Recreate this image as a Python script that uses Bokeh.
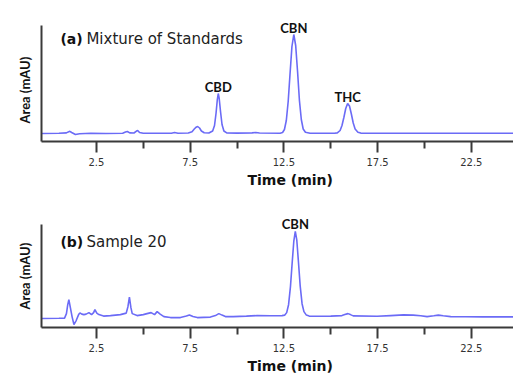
from bokeh.plotting import figure
from bokeh.models import FixedTicker, Label, Range1d, Title
from bokeh.layouts import column
from bokeh.embed import file_html
from bokeh.resources import INLINE

# ---- data ----
time_a = [-0.43, 0.5, 0.9, 1.0, 1.08, 1.18, 1.38, 1.6, 2.2, 3.0, 3.9, 4.05, 4.15, 4.28, 4.5, 4.62, 4.7, 4.8, 5.0,
          6.0, 6.5, 6.67, 6.85, 7.4, 7.6, 7.72, 7.82, 7.9, 8.0, 8.1, 8.25, 8.5, 8.7, 8.8, 8.88, 8.95, 9.0, 9.05,
          9.12, 9.2, 9.3, 9.45, 10.0, 10.8, 11.0, 11.2, 12.3, 12.43, 12.53, 12.63, 12.73, 12.83, 12.93, 13.03,
          13.13, 13.23, 13.33, 13.43, 13.53, 13.65, 13.9, 15.2, 15.35, 15.5, 15.6, 15.7, 15.8, 15.9, 16.0, 16.1,
          16.2, 16.3, 16.45, 16.6, 17.0, 20.0, 24.75]
area_a = [0.0, 0.2, 0.6, 1.6, 2.2, 1.0, -1.0, -0.2, 0.2, 0.0, 0.3, 1.5, 2.0, 0.6, 0.5, 2.2, 3.0, 1.0, 0.2,
          0.3, 0.3, 1.0, 0.3, 0.5, 1.8, 4.5, 6.3, 7.0, 5.5, 2.5, 0.8, 0.5, 2.5, 8.0, 20.0, 34.0, 40.0, 35.0,
          22.0, 9.0, 2.5, 0.6, 0.4, 0.6, 1.0, 0.5, 0.3, 1.0, 4.0, 13.0, 32.0, 60.0, 87.0, 99.0,
          88.0, 62.0, 33.0, 14.0, 4.5, 1.2, 0.3, 0.3, 0.6, 3.0, 8.0, 16.0, 25.0, 30.0, 27.5, 19.5,
          10.5, 4.5, 1.3, 0.4, 0.2, 0.2, 0.2]

time_b = [-0.43, 0.5, 0.8, 0.9, 0.97, 1.03, 1.12, 1.2, 1.3, 1.42, 1.55, 1.62, 1.72, 1.83, 1.95, 2.1, 2.24, 2.35,
          2.42, 2.52, 2.63, 2.88, 3.25, 3.78, 4.09, 4.18, 4.26, 4.34, 4.41, 4.67, 5.0, 5.2, 5.42, 5.6, 5.74,
          5.9, 6.1, 6.45, 6.98, 7.3, 7.46, 7.65, 7.88, 8.58, 8.85, 9.03, 9.2, 9.38, 9.8, 10.5, 11.07, 11.8,
          12.4, 12.55, 12.65, 12.75, 12.85, 12.95, 13.03, 13.11, 13.19, 13.27, 13.37, 13.47, 13.57, 13.7,
          13.85, 14.27, 15.0, 15.6, 15.75, 15.92, 16.05, 16.2, 17.47, 18.2, 18.88, 19.4, 19.8, 20.14, 20.5,
          20.74, 21.0, 21.4, 22.2, 23.1, 24.75]
area_b = [0.0, 0.3, 0.5, 5.0, 14.0, 19.0, 10.0, 2.0, -6.0, -2.0, 4.0, 5.7, 4.5, 4.0, 4.5, 6.0, 4.0, 6.0,
          9.0, 5.5, 4.0, 2.5, 3.0, 4.0, 5.5, 12.0, 21.7, 11.0, 5.0, 3.0, 4.0, 5.0, 6.0, 4.0, 7.0,
          4.5, 2.0, 1.0, 1.0, 2.5, 3.7, 2.0, 1.0, 1.5, 3.0, 5.0, 3.5, 2.0, 2.0, 2.5, 3.0, 2.8,
          3.0, 3.5, 6.0, 14.0, 32.0, 58.0, 78.0, 88.0, 79.0, 59.0, 33.0, 15.0, 7.0, 3.5,
          2.5, 2.3, 2.5, 3.0, 4.0, 5.0, 4.0, 2.7, 2.3, 3.0, 3.7, 3.5, 2.8, 2.0, 2.8,
          3.5, 2.8, 2.0, 1.8, 1.7, 1.7]

peak_names_a = ["CBD", "CBN", "THC"]
peak_times_a = [9.0, 13.03, 15.9]
peak_areas_a = [40.0, 99.0, 30.0]

peak_names_b = ["CBN"]
peak_times_b = [13.11]
peak_areas_b = [88.0]

major_ticks = [2.5, 7.5, 12.5, 17.5, 22.5]
minor_ticks = [5, 10, 15, 20]

LINE = "#6b6bf6"
AXIS = "#3a3a3a"


def panel(times, areas, ylo, ytop, yhi, height, btop, bbot, tag, title, names, ptimes, pareas, title_y):
    p = figure(width=513, height=height, output_backend="svg", toolbar_location=None,
               x_range=Range1d(-0.43, 24.75), y_range=Range1d(ylo, yhi),
               min_border_left=41, min_border_right=0, min_border_top=btop, min_border_bottom=bbot)
    p.outline_line_color = None
    p.xgrid.visible = False
    p.ygrid.visible = False
    p.background_fill_color = "white"
    p.border_fill_color = "white"

    p.line(times, areas, line_color=LINE, line_width=1.6)

    xa = p.xaxis[0]
    xa.ticker = FixedTicker(ticks=major_ticks, minor_ticks=minor_ticks)
    xa.axis_line_color = AXIS
    xa.axis_line_width = 2
    xa.major_tick_line_color = AXIS
    xa.major_tick_line_width = 2
    xa.major_tick_in = 0
    xa.major_tick_out = 11
    xa.minor_tick_line_color = AXIS
    xa.minor_tick_line_width = 2
    xa.minor_tick_in = 0
    xa.minor_tick_out = 7
    xa.major_label_text_font = "DejaVu Sans"
    xa.major_label_text_font_size = "10px"
    xa.major_label_text_color = "#333333"
    xa.major_label_standoff = 5

    ya = p.yaxis[0]
    ya.ticker = FixedTicker(ticks=[])
    ya.bounds = (ylo, ytop)
    ya.axis_line_color = AXIS
    ya.axis_line_width = 2
    ya.major_tick_line_color = None
    ya.minor_tick_line_color = None
    ya.major_tick_out = 0

    p.add_layout(Title(text="Area (mAU)", align="left", offset=18, standoff=18,
                       text_font="Lato", text_font_style="bold", text_font_size="13px",
                       text_color="#111111"), "left")

    p.add_layout(Title(text="Time (min)", align="left", offset=206, standoff=2,
                       text_font="DejaVu Sans", text_font_style="bold", text_font_size="14px",
                       text_color="#111111"), "below")

    p.add_layout(Label(x=0.58, y=title_y, text=tag, text_font="DejaVu Sans", text_font_style="bold",
                       text_font_size="14px", text_color="#111111", text_baseline="alphabetic"))
    p.add_layout(Label(x=0.58, y=title_y, x_offset=26, text=title, text_font="DejaVu Sans",
                       text_font_size="15px", text_color="#222222", text_baseline="alphabetic"))

    for n, t, a in zip(names, ptimes, pareas):
        p.add_layout(Label(x=t, y=a, y_offset=7, text=n, text_font="Lato", text_font_style="bold",
                           text_font_size="13px", text_color="#111111", text_align="center",
                           text_baseline="alphabetic"))
    return p


pa = panel(time_a, area_a, -8, 108, 118, 190, 15, 49, "(a)", "Mixture of Standards",
           peak_names_a, peak_times_a, peak_areas_a, 95)
pb = panel(time_b, area_b, -9, 95, 111, 184, 18, 46, "(b)", "Sample 20",
           peak_names_b, peak_times_b, peak_areas_b, 77)

layout = column(pa, pb, spacing=0)
open("out.html", "w").write(file_html(layout, INLINE))
